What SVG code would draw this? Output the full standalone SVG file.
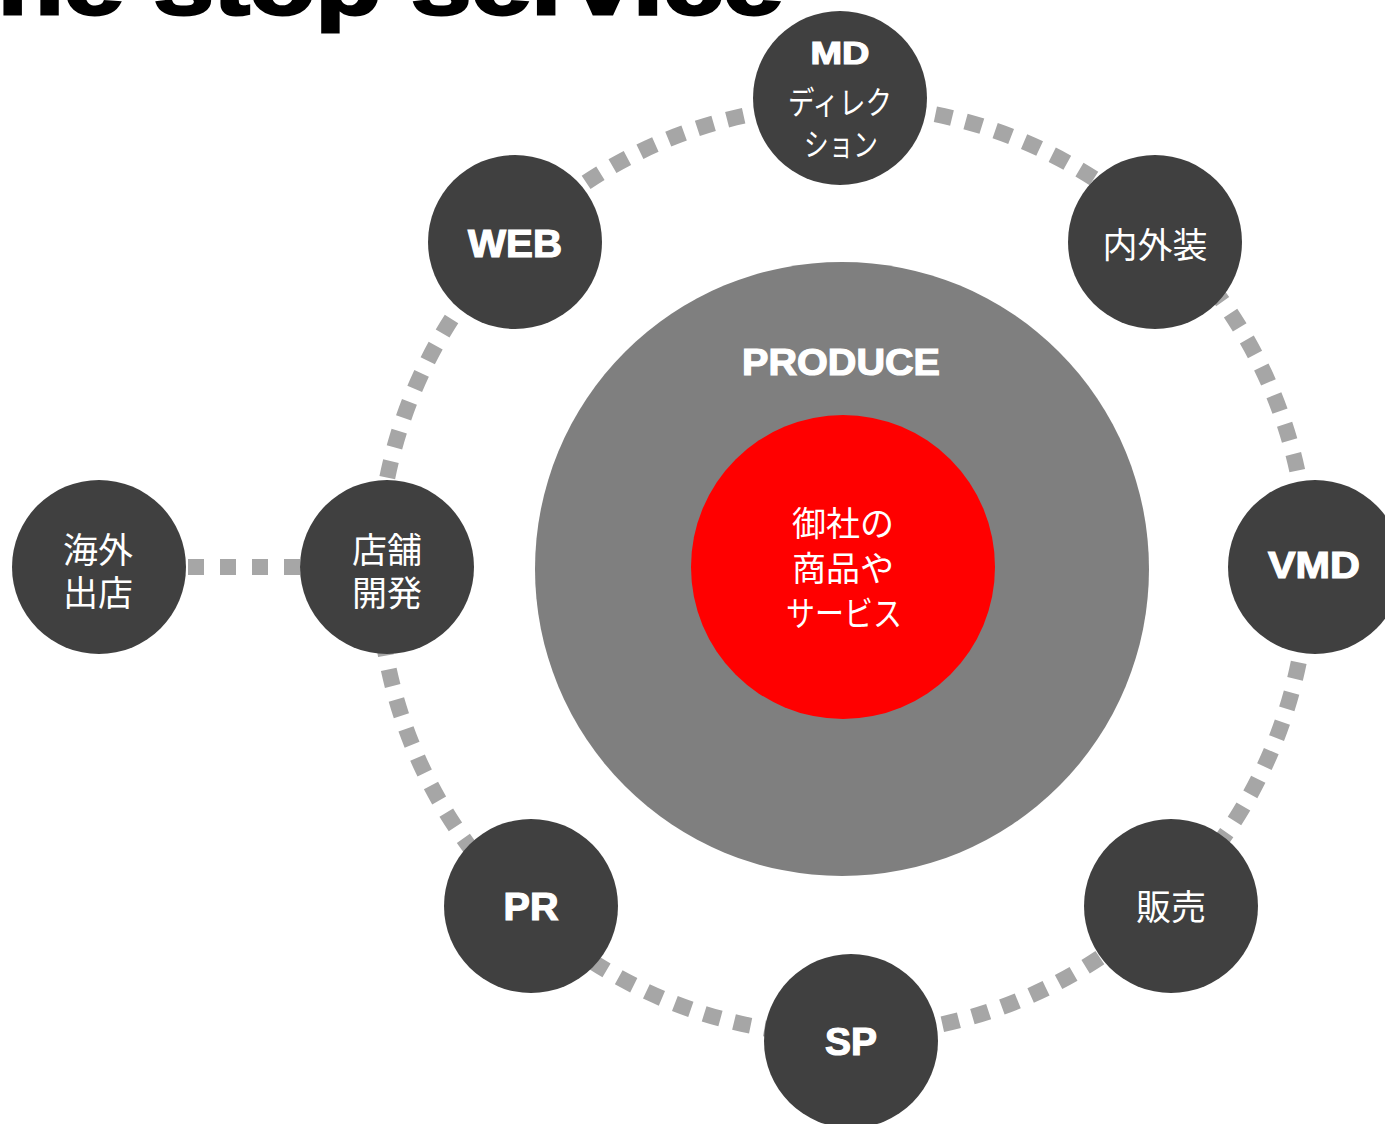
<svg xmlns="http://www.w3.org/2000/svg" width="1385" height="1124" viewBox="0 0 1385 1124">
<style>
.node{fill:#404040}
.lat{font-family:"Liberation Sans",Arial,sans-serif;font-weight:bold;fill:#fff;stroke:#fff;stroke-width:1.2;text-anchor:middle}
.jp{font-family:"Noto Sans CJK JP","Noto Sans",sans-serif;fill:#fff;text-anchor:middle}
.ring{fill:none;stroke:#a6a6a6;stroke-width:16;stroke-dasharray:17 14}
.link{fill:none;stroke:#a6a6a6;stroke-width:16;stroke-dasharray:16 16}
</style>
<rect width="1385" height="1124" fill="#fff"/>
<text x="-86" y="14" font-family="'Liberation Sans',Arial,sans-serif" font-weight="bold" font-size="88" fill="#000" stroke="#000" stroke-width="3" textLength="869" lengthAdjust="spacingAndGlyphs">One stop service</text>
<g id="produce">
<circle cx="842" cy="569" r="307" fill="#7f7f7f"/>
<text class="lat" x="841" y="375" font-size="37" textLength="198" lengthAdjust="spacingAndGlyphs">PRODUCE</text>
</g>
<g id="core">
<circle cx="843" cy="567" r="152" fill="#ff0000"/>
<text class="jp" x="843" y="536" font-size="34">御社の</text>
<text class="jp" x="843" y="581" font-size="34">商品や</text>
<text class="jp" x="844" y="626" font-size="34" textLength="116" lengthAdjust="spacingAndGlyphs">サービス</text>
</g>
<g id="connectors">
<path class="ring" d="M843 105 A465 465 0 0 1 1171.8 241.2"/>
<path class="ring" d="M1171.8 241.2 A465 465 0 0 1 1308 570"/>
<path class="ring" d="M1308 570 A465 465 0 0 1 1171.8 898.8"/>
<path class="ring" d="M1171.8 898.8 A465 465 0 0 1 843 1035"/>
<path class="ring" d="M843 1035 A465 465 0 0 1 514.2 898.8"/>
<path class="ring" d="M514.2 898.8 A465 465 0 0 1 378 570"/>
<path class="ring" d="M378 570 A465 465 0 0 1 514.2 241.2"/>
<path class="ring" d="M514.2 241.2 A465 465 0 0 1 843 105"/>
<path class="link" d="M188 567 H300"/>
</g>
<g id="md">
<circle class="node" cx="840" cy="98" r="87"/>
<text class="lat" x="840" y="64" font-size="31" textLength="59" lengthAdjust="spacingAndGlyphs">MD</text>
<text class="jp" x="840" y="114" font-size="32" textLength="104" lengthAdjust="spacingAndGlyphs">ディレク</text>
<text class="jp" x="841" y="156" font-size="32" textLength="74" lengthAdjust="spacingAndGlyphs">ション</text>
</g>
<g id="web">
<circle class="node" cx="515" cy="242" r="87"/>
<text class="lat" x="515" y="257" font-size="38" textLength="94" lengthAdjust="spacingAndGlyphs">WEB</text>
</g>
<g id="naigaiso">
<circle class="node" cx="1155" cy="242" r="87"/>
<text class="jp" x="1155" y="258" font-size="35">内外装</text>
</g>
<g id="tenpo">
<circle class="node" cx="387" cy="567" r="87"/>
<text class="jp" x="387" y="563" font-size="35">店舗</text>
<text class="jp" x="387" y="606" font-size="35">開発</text>
</g>
<g id="kaigai">
<circle class="node" cx="99" cy="567" r="87"/>
<text class="jp" x="98" y="563" font-size="35">海外</text>
<text class="jp" x="98" y="606" font-size="35">出店</text>
</g>
<g id="vmd">
<circle class="node" cx="1315" cy="567" r="87"/>
<text class="lat" x="1314" y="578" font-size="37" textLength="92" lengthAdjust="spacingAndGlyphs">VMD</text>
</g>
<g id="pr">
<circle class="node" cx="531" cy="906" r="87"/>
<text class="lat" x="531" y="920" font-size="38" textLength="55" lengthAdjust="spacingAndGlyphs">PR</text>
</g>
<g id="hanbai">
<circle class="node" cx="1171" cy="906" r="87"/>
<text class="jp" x="1171" y="920" font-size="35">販売</text>
</g>
<g id="sp">
<circle class="node" cx="851" cy="1041" r="87"/>
<text class="lat" x="851" y="1055" font-size="38" textLength="52" lengthAdjust="spacingAndGlyphs">SP</text>
</g>
</svg>
